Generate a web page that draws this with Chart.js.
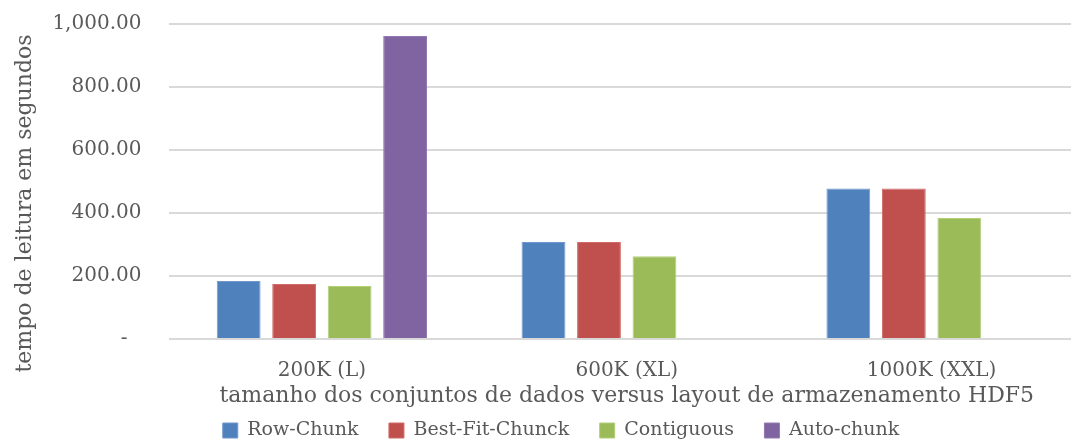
<!DOCTYPE html>
<html>
<head>
<meta charset="utf-8">
<script src="https://cdn.jsdelivr.net/npm/chart.js@4/dist/chart.umd.min.js"></script>
<style>
    html, body { margin: 0; padding: 0; background: #fff; }
    #wrap { width: 1071px; height: 441px; overflow: hidden; }
</style>
</head>
<body>
<div id="wrap"><canvas id="barChart" width="1122" height="441"></canvas></div>
<script>
const categories = ['200K (L)', '600K (XL)', '1000K (XXL)'];
const rowChunk = [184, 308, 478];
const bestFitChunck = [175, 308, 478];
const contiguous = [168, 263, 384];
const autoChunk = [962, null, null];
const yTicks = [0, 200, 400, 600, 800, 1000];

document.addEventListener("DOMContentLoaded", () => {
    const textColor = '#595959';

    Chart.defaults.font.family = "'DejaVu Serif', serif";
    Chart.defaults.color = textColor;

    // the y title sits a bit lower than the plot centre, as in the original
    const yTitleShift = {
        id: 'yTitleShift',
        beforeDraw: chart => {
            chart.scales.y.bottom = chart.chartArea.bottom + 44;
        }
    };

    const ctx = document.getElementById("barChart").getContext("2d");

    new Chart(ctx, {
        type: 'bar',
        data: {
            labels: categories,
            datasets: [
                { label: 'Row-Chunk', data: rowChunk, backgroundColor: '#4F81BD', borderColor: '#6f98cc' },
                { label: 'Best-Fit-Chunck', data: bestFitChunck, backgroundColor: '#C0504D', borderColor: '#d06a67' },
                { label: 'Contiguous', data: contiguous, backgroundColor: '#9BBB59', borderColor: '#b3cf78' },
                { label: 'Auto-chunk', data: autoChunk, backgroundColor: '#8064A2', borderColor: '#9379b3' }
            ]
        },
        plugins: [yTitleShift],
        options: {
            responsive: false,
            animation: false,
            datasets: {
                bar: { categoryPercentage: 0.728, barPercentage: 0.79, borderWidth: 1 }
            },
            layout: { padding: { top: 24, right: 12, left: 12, bottom: -9 } },
            plugins: {
                tooltip: { enabled: false },
                legend: {
                    display: true,
                    position: 'bottom',
                    labels: {
                        color: textColor,
                        font: { size: 19 },
                        boxWidth: 15,
                        boxHeight: 15,
                        padding: 2,
                        // wider gap between entries without a taller legend
                        generateLabels: chart => {
                            const items = Chart.defaults.plugins.legend.labels.generateLabels(chart);
                            items.forEach((it, i) => { if (i < items.length - 1) it.text += '\u2003\u2002'; });
                            return items;
                        }
                    }
                }
            },
            scales: {
                y: {
                    min: 0,
                    max: 1000,
                    afterBuildTicks: axis => { axis.ticks = yTicks.map(v => ({ value: v })); },
                    afterFit: axis => {
                        axis.width -= 14;
                        axis.paddingTop = 0;
                        axis.paddingBottom = 0;
                    },
                    border: { display: false },
                    grid: { color: '#d9d9d9', lineWidth: 2, drawTicks: false },
                    ticks: {
                        color: textColor,
                        font: { size: 20 },
                        padding: 28,
                        callback: v => v === 0 ? '-\u2002\u2009' : v.toLocaleString('en-US', { minimumFractionDigits: 2, maximumFractionDigits: 2 })
                    },
                    title: {
                        display: true,
                        text: 'tempo de leitura em segundos',
                        color: textColor,
                        font: { size: 22 },
                        padding: { top: 0, bottom: 0 }
                    }
                },
                // empty spacer on the right so the plot runs past the cropped edge
                spacer: {
                    axis: 'y',
                    position: 'right',
                    display: true,
                    afterFit: axis => { axis.width = 26; },
                    border: { display: false },
                    grid: { display: false },
                    ticks: { display: false }
                },
                x: {
                    afterFit: axis => { axis.height = 80; },
                    border: { display: false },
                    grid: { display: false },
                    ticks: {
                        color: textColor,
                        font: { size: 20 },
                        padding: 12
                    },
                    title: {
                        display: true,
                        text: 'tamanho dos conjuntos de dados versus layout de armazenamento HDF5',
                        color: textColor,
                        font: { size: 22 },
                        padding: { top: 0, bottom: 10 }
                    }
                }
            }
        }
    });
});
</script>
</body>
</html>
